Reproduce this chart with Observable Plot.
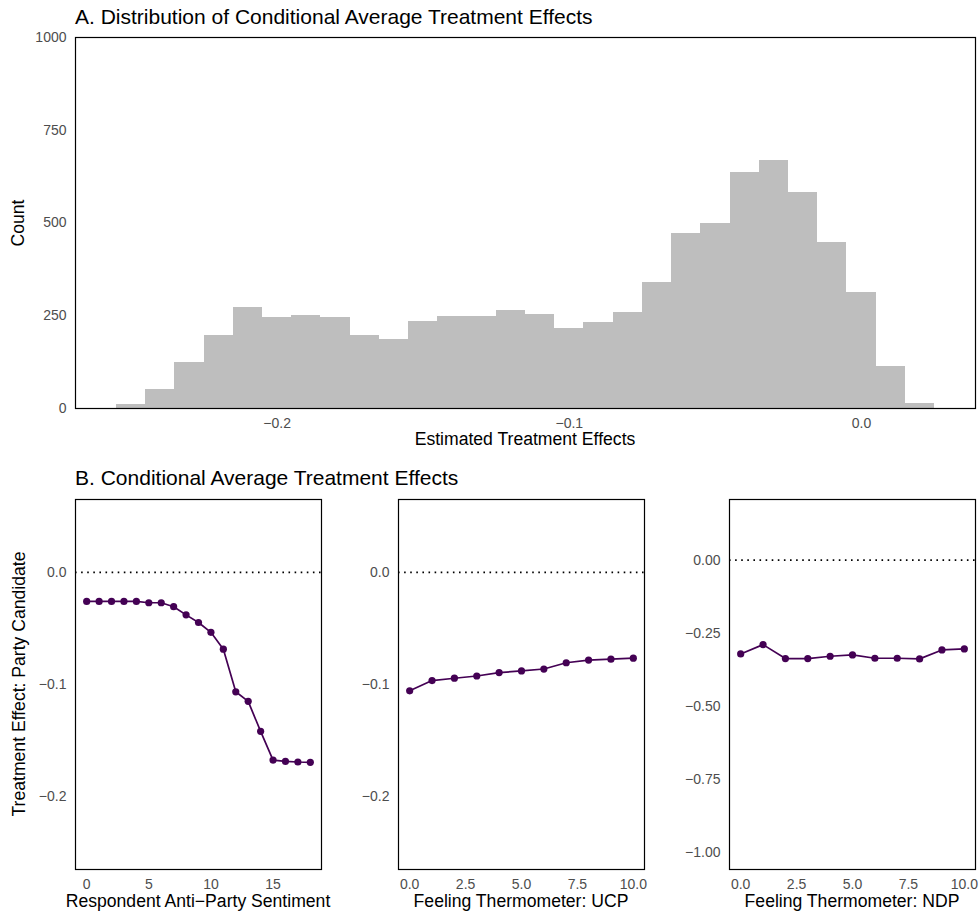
<!DOCTYPE html>
<html>
<head>
<meta charset="utf-8">
<script src="https://cdn.jsdelivr.net/npm/d3@7"></script>
<script src="https://cdn.jsdelivr.net/npm/@observablehq/plot@0.6"></script>
<style>
  html, body { margin: 0; padding: 0; background: #fff; }
  #root { position: relative; width: 979px; height: 913px; background: #fff; overflow: hidden;
          font-family: "Liberation Sans", Arial, Helvetica, sans-serif; color: #000; }
  .abs { position: absolute; white-space: nowrap; line-height: 1; }
  .title { font-size: 21px; }
  .atitle { font-size: 17.6px; }
  .plot { position: absolute; }
</style>
</head>
<body>
<div id="root"></div>
<script>
// ---------- Data ----------
// Panel A: histogram of estimated treatment effects (bin edges and counts)
const histBinLo = [-0.255,-0.245,-0.235,-0.225,-0.215,-0.205,-0.195,-0.185,-0.175,-0.165,-0.155,-0.145,-0.135,-0.125,
                   -0.115,-0.105,-0.095,-0.085,-0.075,-0.065,-0.055,-0.045,-0.035,-0.025,-0.015,-0.005,0.005,0.015];
const histBinHi = [-0.245,-0.235,-0.225,-0.215,-0.205,-0.195,-0.185,-0.175,-0.165,-0.155,-0.145,-0.135,-0.125,-0.115,
                   -0.105,-0.095,-0.085,-0.075,-0.065,-0.055,-0.045,-0.035,-0.025,-0.015,-0.005,0.005,0.015,0.025];
const histCounts = [10,50,123,197,271,245,252,245,197,186,234,247,248,263,
                    254,216,232,259,339,473,498,637,668,581,448,313,113,13];
const histXTicks = [-0.2,-0.1,0.0];
const histYTicks = [0,250,500,750,1000];

// Panel B1: Respondent Anti-Party Sentiment
const antiX = [0,1,2,3,4,5,6,7,8,9,10,11,12,13,14,15,16,17,18];
const antiY = [-0.0259,-0.0259,-0.0259,-0.0259,-0.0259,-0.0271,-0.0271,-0.0306,-0.0379,-0.0447,
               -0.0535,-0.0685,-0.1065,-0.1150,-0.1418,-0.1674,-0.1685,-0.1691,-0.1694];
const antiXTicks = [0,5,10,15];

// Panel B2: Feeling Thermometer UCP
const ucpX = [0,1,2,3,4,5,6,7,8,9,10];
const ucpY = [-0.1056,-0.0965,-0.0944,-0.0924,-0.0894,-0.0879,-0.0862,-0.0806,-0.0782,-0.0774,-0.0765];

// Panel B3: Feeling Thermometer NDP
const ndpX = [0,1,2,3,4,5,6,7,8,9,10];
const ndpY = [-0.3205,-0.2886,-0.3364,-0.3364,-0.3284,-0.3239,-0.3352,-0.3352,-0.3375,-0.3068,-0.3034];

const thermoXTicks = [0,2.5,5,7.5,10];
const sharedYTicks = [0,-0.1,-0.2];
const ndpYTicks = [0,-0.25,-0.5,-0.75,-1];

// ---------- Styling ----------
const FONT = '"Liberation Sans", Arial, Helvetica, sans-serif';
const TICK = "#4d4d4d";
const PURPLE = "#440154";
const root = document.getElementById("root");

function addText(txt, cls, left, top, extra) {
  const d = document.createElement("div");
  d.className = "abs " + cls;
  d.textContent = txt;
  d.style.left = left + "px";
  d.style.top = top + "px";
  if (extra) Object.assign(d.style, extra);
  root.appendChild(d);
  return d;
}
function place(svg, left, top) {
  svg.classList.add("plot");
  svg.style.left = left + "px";
  svg.style.top = top + "px";
  root.appendChild(svg);
}

// ---------- Panel A: histogram ----------
const histData = histCounts.map((c, i) => ({lo: histBinLo[i], hi: histBinHi[i], count: c}));
const hist = Plot.plot({
  width: 979, height: 460,
  marginLeft: 75, marginRight: 4, marginTop: 37, marginBottom: 52,
  style: {fontFamily: FONT, fontSize: "14px", background: "transparent"},
  x: {domain: [-0.269, 0.039]},
  y: {domain: [0, 1000]},
  marks: [
    Plot.rectY(histData, {x1: "lo", x2: "hi", y1: 0, y2: "count", fill: "#bebebe", inset: 0,
                          shapeRendering: "crispEdges"}),
    Plot.frame({stroke: "black", strokeWidth: 1.2}),
    Plot.axisX({ticks: histXTicks, tickSize: 0, tickPadding: 9.5, tickFormat: d3.format(".1f"),
                color: TICK, fontSize: 14, label: null}),
    Plot.axisY({ticks: histYTicks, tickSize: 0, tickPadding: 9, tickFormat: d3.format("d"),
                color: TICK, fontSize: 14, label: null})
  ]
});
place(hist, 0, 0);

// ---------- Panel B helper ----------
function panel(xs, ys, opts) {
  const data = xs.map((x, i) => ({x, y: ys[i]}));
  return Plot.plot({
    width: opts.width, height: 453,
    marginLeft: opts.marginLeft, marginRight: 4, marginTop: 39, marginBottom: 44,
    style: {fontFamily: FONT, fontSize: "14px", background: "transparent"},
    x: {domain: opts.xDomain},
    y: {domain: opts.yDomain},
    marks: [
      Plot.ruleY([0], {stroke: "black", strokeWidth: 1.7, strokeDasharray: "1.6,4.5"}),
      Plot.line(data, {x: "x", y: "y", stroke: PURPLE, strokeWidth: 1.7}),
      Plot.dot(data, {x: "x", y: "y", r: 3.6, fill: PURPLE, stroke: "none"}),
      Plot.frame({stroke: "black", strokeWidth: 1.2}),
      Plot.axisX({ticks: opts.xTicks, tickSize: 0, tickPadding: 9.5, tickFormat: opts.xFormat,
                  color: TICK, fontSize: 14, label: null}),
      Plot.axisY({ticks: opts.yTicks, tickSize: 0, tickPadding: 9, tickFormat: opts.yFormat,
                  color: TICK, fontSize: 14, label: null})
    ]
  });
}

place(panel(antiX, antiY, {
  width: 325, marginLeft: 75, xDomain: [-0.9, 18.9], yDomain: [-0.265, 0.065],
  xTicks: antiXTicks, xFormat: d3.format("d"), yTicks: sharedYTicks, yFormat: d3.format(".1f")
}), 0, 460);

place(panel(ucpX, ucpY, {
  width: 323, marginLeft: 73, xDomain: [-0.5, 10.5], yDomain: [-0.265, 0.065],
  xTicks: thermoXTicks, xFormat: d3.format(".1f"), yTicks: sharedYTicks, yFormat: d3.format(".1f")
}), 325, 460);

place(panel(ndpX, ndpY, {
  width: 331, marginLeft: 81, xDomain: [-0.5, 10.5], yDomain: [-1.0575, 0.2075],
  xTicks: thermoXTicks, xFormat: d3.format(".1f"), yTicks: ndpYTicks, yFormat: d3.format(".2f")
}), 648, 460);

// ---------- Titles and axis titles ----------
addText("A. Distribution of Conditional Average Treatment Effects", "title", 75, 6.2);
addText("B. Conditional Average Treatment Effects", "title", 75, 467.2);

addText("Estimated Treatment Effects", "atitle", 75, 431.2, {width: "900px", textAlign: "center"});
addText("Respondent Anti\u2212Party Sentiment", "atitle", 75 - 100, 892.7, {width: "446px", textAlign: "center"});
addText("Feeling Thermometer: UCP", "atitle", 398 - 100, 892.7, {width: "446px", textAlign: "center"});
addText("Feeling Thermometer: NDP", "atitle", 729 - 100, 892.7, {width: "446px", textAlign: "center"});

function addRotated(txt, cx, cy) {
  const d = addText(txt, "atitle", cx, cy, {});
  d.style.transform = "translate(-50%, -50%) rotate(-90deg)";
  return d;
}
addRotated("Count", 19.3, 222.5);
addRotated("Treatment Effect: Party Candidate", 19.5, 684);
</script>
</body>
</html>
